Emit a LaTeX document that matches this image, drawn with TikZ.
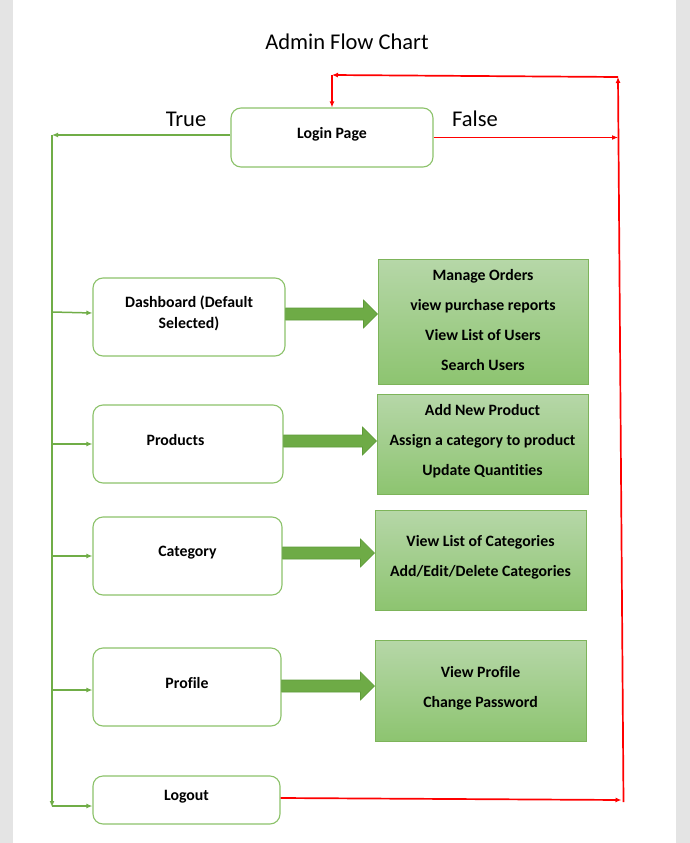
\documentclass[tikz,border=0pt]{standalone}
\usepackage{fontspec}
\setmainfont{Carlito}[Ligatures=NoCommon]
\usetikzlibrary{arrows.meta,calc}
\definecolor{pagegray}{HTML}{E4E4E4}
\definecolor{boxgreen}{HTML}{8CC26A}
\definecolor{linegreen}{HTML}{70AD47}
\definecolor{gtop}{HTML}{B6D7A8}
\definecolor{gbot}{HTML}{8DC470}
\definecolor{gborder}{HTML}{7DB45A}
\definecolor{arrowfill}{HTML}{6EAB46}
\definecolor{arrowedge}{HTML}{5D9A38}
\tikzset{
  flowbox/.style={draw=boxgreen, line width=1.1pt, rounded corners=10pt, fill=white, inner sep=0pt},
  boxtext/.style={font=\fontsize{15.8}{19}\selectfont\bfseries, align=center, inner sep=0pt},
  taskbox/.style={draw=gborder, line width=1pt, top color=gtop, bottom color=gbot, inner sep=0pt},
  tasktext/.style={font=\fontsize{15.8}{30}\selectfont\bfseries, align=center, inner sep=0pt},
  gline/.style={draw=linegreen, line width=1.5pt, -{Latex[length=6pt,width=5pt]}},
  rline/.style={draw=red, line width=1.7pt, -{Latex[length=6pt,width=5pt]}},
  bigtext/.style={font=\fontsize{22.5}{27}\selectfont, inner sep=0pt},
  blockarrow/.style={fill=arrowfill, draw=arrowedge, line width=0.6pt}
}
\newcommand\fatarrow[3]{%
  \path let \p1=(#1.east), \p2=(#2.west) in
    [blockarrow] (\x1,\y1+#3+6pt) -- (\x2-14pt,\y1+#3+6pt) -- (\x2-14pt,\y1+#3+14pt)
    -- (\x2,\y1+#3) -- (\x2-14pt,\y1+#3-14pt) -- (\x2-14pt,\y1+#3-6pt) -- (\x1,\y1+#3-6pt) -- cycle;}
\begin{document}
\begin{tikzpicture}[x=1pt,y=-1pt]
\useasboundingbox (0,0) rectangle (690,843);
\fill[pagegray] (0,0) rectangle (690,843);
\fill[white] (13,0) rectangle (676,843);

\node[bigtext] (title) at (347,42) {Admin Flow Chart};
\node[bigtext] (true) at (186,119) {True};
\node[bigtext] (false) at (475,119) {False};

% left column boxes
\node[flowbox, minimum width=202pt, minimum height=59pt] (login) at (332,137.5) {};
\node[boxtext] at ([yshift=3pt]login.center) {Login Page};
\node[flowbox, minimum width=192pt, minimum height=78pt] (dash) at (189,317) {};
\node[boxtext] at ([yshift=4pt]dash.center) {Dashboard (Default\\[2pt]Selected)};
\node[flowbox, minimum width=190pt, minimum height=78pt] (prod) at (188,444) {};
\node[boxtext] at ([xshift=-12.5pt,yshift=4pt]prod.center) {Products};
\node[flowbox, minimum width=189pt, minimum height=78pt] (cat) at (187.5,556) {};
\node[boxtext] at ([yshift=3pt]cat.center) {Category};
\node[flowbox, minimum width=188pt, minimum height=78pt] (prof) at (187,687) {};
\node[boxtext] at ([yshift=4pt]prof.center) {Profile};
\node[flowbox, minimum width=187pt, minimum height=48pt] (logout) at (186.5,800) {};
\node[boxtext] at ([yshift=3.5pt]logout.center) {Logout};

% task boxes
\node[taskbox, minimum width=210pt, minimum height=125pt] (g1) at (483,321.5) {};
\node[tasktext] at ([yshift=1.5pt]g1.center) {Manage Orders\\view purchase reports\\View List of Users\\Search Users};
\node[taskbox, minimum width=211pt, minimum height=100pt] (g2) at (482.5,444) {};
\node[tasktext] at ([yshift=2.5pt]g2.center) {Add New Product\\Assign a category to product\\Update Quantities};
\node[taskbox, minimum width=211pt, minimum height=100pt] (g3) at (480.5,560) {};
\node[tasktext] at ([yshift=2.5pt]g3.center) {View List of Categories\\Add/Edit/Delete Categories};
\node[taskbox, minimum width=211pt, minimum height=101pt] (g4) at (480.5,690.5) {};
\node[tasktext] at ([yshift=2.5pt]g4.center) {View Profile\\Change Password};

% block arrows
\fatarrow{dash}{g1}{3pt}
\fatarrow{prod}{g2}{3pt}
\fatarrow{cat}{g3}{3pt}
\fatarrow{prof}{g4}{1pt}

% green connectors
\coordinate (tl) at (52,135);
\coordinate (bl) at (52,807);
\draw[gline] (login.west |- tl) -- (tl);
\draw[gline] (tl) -- (bl);
\draw[gline] ([yshift=5pt]tl |- dash.west) -- ([yshift=4pt]dash.west);
\draw[gline] (tl |- prod.west) -- (prod.west);
\draw[gline] (tl |- cat.west) -- (cat.west);
\draw[gline] ([yshift=-3pt]tl |- prof.west) -- ([yshift=-3pt]prof.west);
\draw[gline] ([yshift=-6pt]tl |- logout.west) -- ([yshift=-6pt]logout.west);

% red connectors
\coordinate (rtop) at (618,77);
\coordinate (rbot) at (623.5,802);
\coordinate (rtl) at (login.north |- 0,75);
\draw[rline] (login.east) -- (618,137.5);
\draw[rline] ([yshift=2pt]logout.east) -- (621.5,800);
\draw[rline] (rbot) -- (rtop);
\draw[rline] (rtop) -- (rtl);
\draw[rline] (rtl) -- (login.north);
\end{tikzpicture}
\end{document}
